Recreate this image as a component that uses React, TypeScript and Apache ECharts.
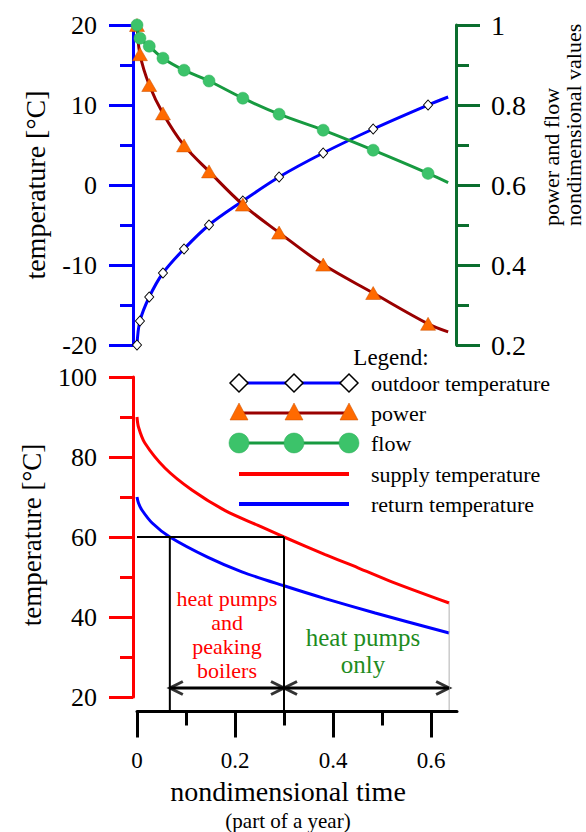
import React, { useEffect, useRef } from "react";
import * as echarts from "echarts";

const FONT = "'Liberation Serif', 'Times New Roman', serif";

// ---- top chart (shared time points of the markers) ----
const timePoints = [0, 0.006, 0.025, 0.053, 0.096, 0.147, 0.216, 0.29, 0.38, 0.482, 0.594, 0.635];
const outdoorTemp = [-20, -17, -14, -11, -8, -5, -2, 1, 4, 7, 10, 11];
const powerValues = [1.0, 0.927, 0.85, 0.779, 0.699, 0.634, 0.551, 0.481, 0.401, 0.33, 0.253, 0.233];
const flowValues = [1.0, 0.967, 0.947, 0.917, 0.887, 0.86, 0.817, 0.777, 0.737, 0.687, 0.629, 0.606];

// ---- bottom chart ----
const supplyTime = [0, 0.003, 0.016, 0.057, 0.112, 0.18, 0.247, 0.3, 0.384, 0.451, 0.52, 0.637];
const supplyTemp = [90, 87.5, 83.5, 77.25, 71.75, 66.6, 62.9, 60, 55.6, 52.3, 48.8, 43.5];
const returnTime = [0, 0.003, 0.01, 0.031, 0.067, 0.145, 0.214, 0.3, 0.384, 0.486, 0.637];
const returnTemp = [70, 68.5, 66.75, 63.5, 60, 54.9, 51.3, 47.8, 44.6, 41.0, 36];

// annotation values (data space)
const thresholdTemp = 60;
const peakStart = 0.067;
const switchTime = 0.3;
const endTime = 0.637;
const endSupply = 43.5;
const lineBottom = 16.75;
const axisBottom = 15.75;
const arrowLevel = 22.25;

// tick values
const xMajorTicks = [0, 0.2, 0.4, 0.6];
const xMinorTicks = [0.1, 0.3, 0.5];

const X_MIN = -0.00816;
const X_MAX = 0.651;

const legendItems = [
  "outdoor temperature",
  "power",
  "flow",
  "supply temperature",
  "return temperature",
];

function zip(xs: number[], ys: number[]) {
  return xs.map((x, i) => [x, ys[i]]);
}

export default function App() {
  const ref = useRef<HTMLDivElement>(null);
  useEffect(() => {
    document.body.style.margin = "0";
    const chart = echarts.init(ref.current!, null, { renderer: "svg" });

    const blue = "#0000ff";
    const red = "#ff0000";
    const dkGreen = "#0b6e2e";
    const lineGreen = "#179a40";
    const circGreen = "#3cc36a";
    const dkRed = "#990000";
    const orange = "#ff6a00";

    const lastNoSymbol = (xs: number[], ys: number[]) =>
      xs.map((x, i) => (i === xs.length - 1 ? { value: [x, ys[i]], symbol: "none" } : [x, ys[i]]));

    const yAxisBase = (color: string) => ({
      type: "value",
      axisLine: { show: true, onZero: false, lineStyle: { color, width: 3 } },
      axisTick: { show: true, length: 24, lineStyle: { color, width: 3 } },
      minorTick: { show: true, splitNumber: 2, length: 13, lineStyle: { color, width: 3 } },
      splitLine: { show: false },
      minorSplitLine: { show: false },
    });

    const lx = 239, mx = 294, rx = 349;
    const rows = [383, 413, 443, 474, 504];
    const diamond = (cx: number, cy: number) => ({
      type: "polygon",
      shape: { points: [[cx - 9, cy], [cx, cy - 9], [cx + 9, cy], [cx, cy + 9]] },
      style: { fill: "#fff", stroke: "#000", lineWidth: 1.5 },
    });
    const tri = (cx: number, cy: number) => ({
      type: "polygon",
      shape: { points: [[cx - 9, cy + 7], [cx + 9, cy + 7], [cx, cy - 10]] },
      style: { fill: orange, stroke: "#c85000", lineWidth: 0.5 },
    });
    const circ = (cx: number, cy: number) => ({
      type: "circle",
      shape: { cx, cy, r: 10 },
      style: { fill: circGreen, stroke: "#2fae5a", lineWidth: 0.5 },
    });
    const hline = (cy: number, color: string, w: number) => ({
      type: "line",
      shape: { x1: lx, y1: cy, x2: rx, y2: cy },
      style: { stroke: color, lineWidth: w },
    });

    const legendGraphics: any[] = [
      {
        type: "text",
        x: 391,
        y: 357,
        style: { text: "Legend:", font: `23px ${FONT}`, fill: "#000", align: "center", verticalAlign: "middle" },
      },
      hline(rows[0], blue, 3),
      diamond(lx, rows[0]), diamond(mx, rows[0]), diamond(rx, rows[0]),
      hline(rows[1], dkRed, 3),
      tri(lx, rows[1]), tri(mx, rows[1]), tri(rx, rows[1]),
      hline(rows[2], lineGreen, 3),
      circ(lx, rows[2]), circ(mx, rows[2]), circ(rx, rows[2]),
      hline(rows[3], red, 4),
      hline(rows[4], blue, 4),
      ...legendItems.map((t, i) => ({
        type: "text",
        x: 371,
        y: rows[i],
        style: { text: t, font: `22px ${FONT}`, fill: "#000", align: "left", verticalAlign: "middle" },
      })),
    ];

    const option: any = {
      animation: false,
      textStyle: { fontFamily: FONT },
      grid: [
        { left: 133, top: 25, width: 323, height: 320 },
        { left: 133, top: 377, width: 323, height: 320 },
        { left: 137, top: 700, width: 320, height: 14 },
      ],
      xAxis: [
        { gridIndex: 0, type: "value", min: X_MIN, max: X_MAX, show: false },
        { gridIndex: 1, type: "value", min: X_MIN, max: X_MAX, show: false },
        {
          gridIndex: 2,
          type: "value",
          min: 0,
          max: 0.653,
          position: "bottom",
          axisLine: { show: true, onZero: false, lineStyle: { color: "#000", width: 3 } },
          axisTick: { show: true, customValues: xMajorTicks, length: 26, lineStyle: { color: "#000", width: 3 } },
          axisLabel: {
            show: true,
            customValues: xMajorTicks,
            margin: 37,
            fontSize: 23,
            color: "#000",
            fontFamily: FONT,
            formatter: (v: number) => (v === 0 ? "0" : String(Math.round(v * 10) / 10)),
          },
          splitLine: { show: false },
          name: "{a|nondimensional time}\n{b|(part of a year)}",
          nameLocation: "middle",
          nameGap: 64,
          nameTextStyle: {
            padding: [0, 18, 0, 0],
            rich: {
              a: { fontSize: 28, lineHeight: 32, color: "#000", fontFamily: FONT },
              b: { fontSize: 21, lineHeight: 26, color: "#000", fontFamily: FONT },
            },
          },
        },
        {
          gridIndex: 2,
          type: "value",
          min: 0,
          max: 0.653,
          position: "bottom",
          axisLine: { show: false },
          axisTick: { show: true, customValues: xMinorTicks, length: 14, lineStyle: { color: "#000", width: 3 } },
          axisLabel: { show: false },
          splitLine: { show: false },
        },
      ],
      yAxis: [
        {
          ...yAxisBase(blue),
          gridIndex: 0,
          position: "left",
          min: -20,
          max: 20,
          interval: 10,
          axisLabel: { margin: 36, fontSize: 26, color: "#000", fontFamily: FONT },
          name: "temperature [°C]",
          nameLocation: "middle",
          nameRotate: 90,
          nameGap: 84,
          nameTextStyle: { fontSize: 28, color: "#000", fontFamily: FONT },
        },
        {
          ...yAxisBase(dkGreen),
          gridIndex: 0,
          position: "right",
          min: 0.2,
          max: 1,
          interval: 0.2,
          axisLabel: { margin: 35, fontSize: 28, color: "#000", fontFamily: FONT },
        },
        {
          ...yAxisBase(red),
          gridIndex: 1,
          position: "left",
          min: 20,
          max: 100,
          interval: 20,
          axisLabel: { margin: 36, fontSize: 26, color: "#000", fontFamily: FONT },
          name: "temperature [°C]",
          nameLocation: "middle",
          nameRotate: 90,
          nameGap: 88,
          nameTextStyle: { fontSize: 27, color: "#000", fontFamily: FONT, padding: [0, 0, 0, 4] },
        },
        { gridIndex: 2, type: "value", min: 0, max: 1, show: false },
      ],
      series: [
        {
          name: "outdoor temperature",
          type: "line",
          xAxisIndex: 0,
          yAxisIndex: 0,
          data: lastNoSymbol(timePoints, outdoorTemp),
          smooth: 0.35,
          symbol: "diamond",
          symbolSize: [9, 10],
          itemStyle: { color: "#fff", borderColor: "#000", borderWidth: 1 },
          lineStyle: { color: blue, width: 3 },
          z: 3,
        },
        {
          name: "power",
          type: "line",
          xAxisIndex: 0,
          yAxisIndex: 1,
          data: lastNoSymbol(timePoints, powerValues),
          smooth: 0.35,
          symbol: "triangle",
          symbolSize: [15, 13],
          itemStyle: { color: orange, borderColor: "#c85000", borderWidth: 0.5 },
          lineStyle: { color: dkRed, width: 3 },
          z: 4,
        },
        {
          name: "flow",
          type: "line",
          xAxisIndex: 0,
          yAxisIndex: 1,
          data: lastNoSymbol(timePoints, flowValues),
          smooth: 0.35,
          symbol: "circle",
          symbolSize: 12,
          itemStyle: { color: circGreen, borderColor: "#2fae5a", borderWidth: 0.5 },
          lineStyle: { color: lineGreen, width: 3 },
          z: 5,
        },
        {
          name: "supply temperature",
          type: "line",
          xAxisIndex: 1,
          yAxisIndex: 2,
          data: zip(supplyTime, supplyTemp),
          smooth: 0.3,
          showSymbol: false,
          symbol: "none",
          lineStyle: { color: red, width: 3 },
        },
        {
          name: "return temperature",
          type: "line",
          xAxisIndex: 1,
          yAxisIndex: 2,
          data: zip(returnTime, returnTemp),
          smooth: 0.3,
          showSymbol: false,
          symbol: "none",
          lineStyle: { color: blue, width: 3 },
        },
        {
          type: "line",
          xAxisIndex: 1,
          yAxisIndex: 2,
          clip: false,
          symbol: "none",
          data: [[0, thresholdTemp], [switchTime, thresholdTemp]],
          lineStyle: { color: "#000", width: 2 },
          silent: true,
        },
        {
          type: "line",
          xAxisIndex: 1,
          yAxisIndex: 2,
          clip: false,
          symbol: "none",
          data: [[peakStart, thresholdTemp], [peakStart, lineBottom]],
          lineStyle: { color: "#000", width: 2 },
          silent: true,
        },
        {
          type: "line",
          xAxisIndex: 1,
          yAxisIndex: 2,
          clip: false,
          symbol: "none",
          data: [[switchTime, thresholdTemp], [switchTime, axisBottom]],
          lineStyle: { color: "#000", width: 2 },
          silent: true,
        },
        {
          type: "line",
          xAxisIndex: 1,
          yAxisIndex: 2,
          clip: false,
          symbol: "none",
          data: [[endTime, endSupply], [endTime, lineBottom]],
          lineStyle: { color: "#b0b0b0", width: 1 },
          silent: true,
        },
        {
          type: "line",
          xAxisIndex: 1,
          yAxisIndex: 2,
          clip: false,
          symbol: "none",
          data: [[peakStart, arrowLevel], [endTime, arrowLevel]],
          lineStyle: { color: "#000", width: 3 },
          silent: true,
        },
        {
          type: "scatter",
          xAxisIndex: 1,
          yAxisIndex: 2,
          clip: false,
          symbol: "path://M12,0 L0,6 L12,12",
          symbolSize: [13, 13],
          symbolOffset: [6.5, 0],
          itemStyle: { color: "none", borderColor: "#000", borderWidth: 3 },
          data: [[peakStart, arrowLevel], [switchTime, arrowLevel]],
          silent: true,
        },
        {
          type: "scatter",
          xAxisIndex: 1,
          yAxisIndex: 2,
          clip: false,
          symbol: "path://M0,0 L12,6 L0,12",
          symbolSize: [13, 13],
          symbolOffset: [-6.5, 0],
          itemStyle: { color: "none", borderColor: "#000", borderWidth: 3 },
          data: [[switchTime, arrowLevel], [endTime, arrowLevel]],
          silent: true,
        },
      ],
      graphic: [
        {
          type: "text",
          x: 562,
          y: 226,
          rotation: Math.PI / 2,
          style: {
            text: "power and flow\nnondimensional values",
            font: `22px ${FONT}`,
            lineHeight: 22,
            fill: "#000",
            align: "left",
            verticalAlign: "middle",
          },
        },
        {
          type: "text",
          x: 227,
          y: 634,
          style: {
            text: "heat pumps\nand\npeaking\nboilers",
            font: `22px ${FONT}`,
            lineHeight: 24,
            fill: red,
            align: "center",
            verticalAlign: "middle",
          },
        },
        {
          type: "text",
          x: 363,
          y: 651,
          style: {
            text: "heat pumps\nonly",
            font: `25px ${FONT}`,
            lineHeight: 27,
            fill: "#1e8c1e",
            align: "center",
            verticalAlign: "middle",
          },
        },
        ...legendGraphics,
      ],
    };

    chart.setOption(option);
    return () => chart.dispose();
  }, []);

  return <div ref={ref} style={{ width: 586, height: 832 }} />;
}
